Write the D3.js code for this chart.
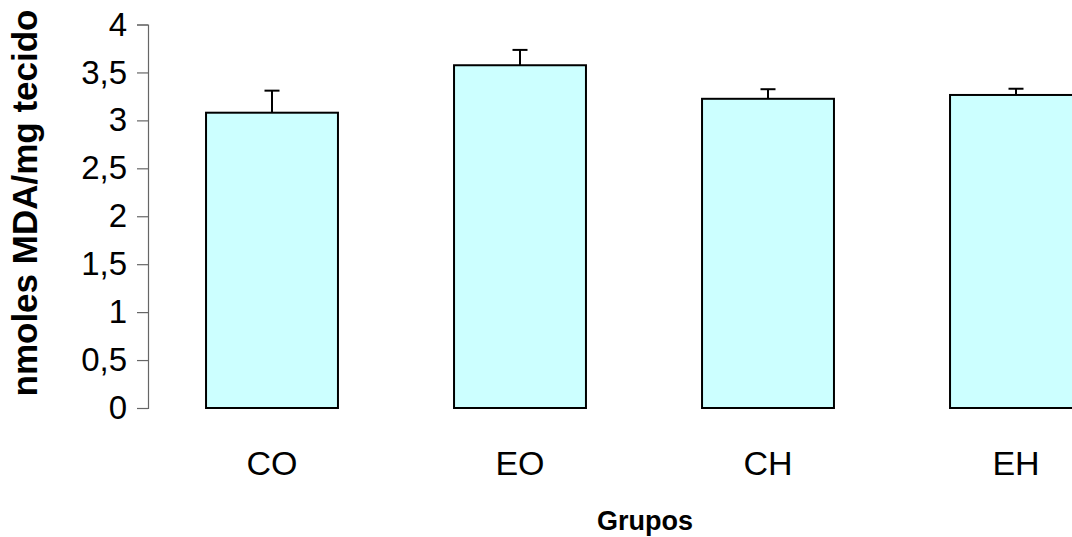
<!DOCTYPE html>
<html>
<head>
<meta charset="utf-8">
<script src="https://cdn.jsdelivr.net/npm/d3@7"></script>
<style>
  html, body { margin: 0; padding: 0; background: #fff; overflow: hidden; }
  svg { display: block; }
  text { font-family: "Liberation Sans", Arial, sans-serif; fill: #000; }
</style>
</head>
<body>
<svg id="chart" width="1072" height="537"></svg>
<script>
// MDA levels per group (mean and upper error)
const groups = ["CO", "EO", "CH", "EH"];
const means = [3.08, 3.575, 3.225, 3.265];
const errors = [0.23, 0.16, 0.10, 0.065];
const yTicks = [0, 0.5, 1, 1.5, 2, 2.5, 3, 3.5, 4];
const yTickLabels = ["0", "0,5", "1", "1,5", "2", "2,5", "3", "3,5", "4"];

const svg = d3.select("#chart");

const x = d3.scaleBand()
  .domain(groups)
  .range([148, 1140])
  .paddingInner(0.468)
  .paddingOuter(0.234);

const y = d3.scaleLinear().domain([0, 4]).range([408, 24.5]);

// y axis
const yAxis = d3.axisLeft(y)
  .tickValues(yTicks)
  .tickFormat((d, i) => yTickLabels[i])
  .tickSize(11)
  .tickPadding(10);

const gy = svg.append("g").attr("transform", "translate(148,0)").call(yAxis);
gy.select(".domain").attr("stroke", "#666").attr("stroke-width", 1.2);
gy.selectAll(".tick line").attr("stroke", "#666").attr("stroke-width", 1.2);
gy.selectAll(".tick text")
  .attr("font-size", 33)
  .attr("font-family", "Liberation Sans, Arial, sans-serif")
  .attr("fill", "#000");

// bars
svg.append("g").selectAll("rect")
  .data(groups)
  .join("rect")
  .attr("x", d => x(d))
  .attr("y", (d, i) => y(means[i]))
  .attr("width", x.bandwidth())
  .attr("height", (d, i) => y(0) - y(means[i]))
  .attr("fill", "#ccffff")
  .attr("stroke", "#000")
  .attr("stroke-width", 2);

// error bars (upper only)
const eb = svg.append("g").attr("stroke", "#000").attr("stroke-width", 2);
groups.forEach((g, i) => {
  const cx = x(g) + x.bandwidth() / 2;
  eb.append("line")
    .attr("x1", cx).attr("x2", cx)
    .attr("y1", y(means[i])).attr("y2", y(means[i] + errors[i]));
  eb.append("line")
    .attr("x1", cx - 7.5).attr("x2", cx + 7.5)
    .attr("y1", y(means[i] + errors[i])).attr("y2", y(means[i] + errors[i]));
});

// category labels
svg.append("g").selectAll("text")
  .data(groups)
  .join("text")
  .attr("x", d => x(d) + x.bandwidth() / 2)
  .attr("y", 475)
  .attr("text-anchor", "middle")
  .attr("font-size", 34)
  .text(d => d);

// axis titles
svg.append("text")
  .attr("x", 645)
  .attr("y", 530)
  .attr("text-anchor", "middle")
  .attr("font-size", 27)
  .attr("font-weight", "bold")
  .text("Grupos");

svg.append("text")
  .attr("transform", "translate(37,203) rotate(-90)")
  .attr("text-anchor", "middle")
  .attr("font-size", 35)
  .attr("font-weight", "bold")
  .text("nmoles MDA/mg tecido");
</script>
</body>
</html>
